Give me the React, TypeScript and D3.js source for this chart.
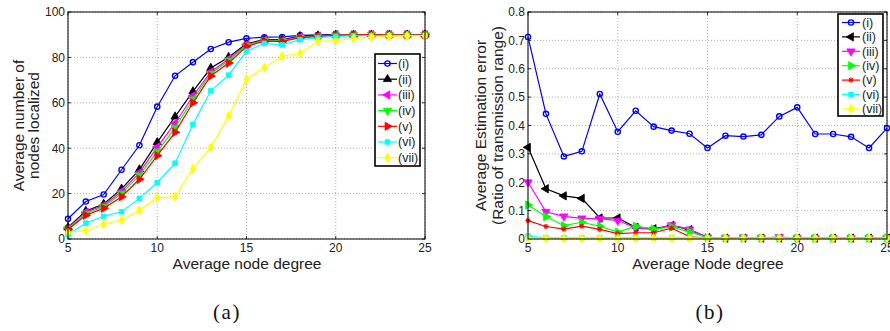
import React from "react";
import * as d3 from "d3";

const degrees = [5, 6, 7, 8, 9, 10, 11, 12, 13, 14, 15, 16, 17, 18, 19, 20, 21, 22, 23, 24, 25];
const seriesLabels = ["(i)", "(ii)", "(iii)", "(iv)", "(v)", "(vi)", "(vii)"];
const seriesColors = ["#0000ff", "#000000", "#ff00ff", "#00ff00", "#ff0000", "#00ffff", "#ffff00"];

const locI = [8.9, 16.5, 19.6, 30.5, 41.3, 58.3, 71.9, 77.9, 83.7, 86.7, 88.4, 88.9, 89.0, 89.7, 89.9, 90, 90, 90, 90, 90, 90];
const locII = [5.1, 12.3, 15.4, 22.1, 30.6, 42.6, 53.9, 65.0, 75.3, 80.1, 86.1, 87.8, 87.8, 89.3, 89.6, 90, 90, 90, 90, 90, 90];
const locIII = [4.8, 11.8, 14.8, 21.0, 29.2, 40.5, 51.0, 63.0, 73.6, 79.3, 85.6, 87.6, 87.5, 89.0, 89.4, 90, 90, 90, 90, 90, 90];
const locIV = [4.5, 11.2, 14.2, 20.0, 28.0, 38.5, 49.0, 61.5, 72.8, 78.5, 85.2, 87.4, 87.2, 88.8, 89.3, 89.8, 89.9, 90, 90, 90, 90];
const locV = [4.2, 10.5, 13.5, 18.6, 26.3, 36.7, 47.0, 60.0, 71.8, 77.5, 84.8, 87.2, 87.0, 88.7, 89.2, 89.8, 89.9, 90, 90, 90, 90];
const locVI = [1.9, 7.0, 10.0, 12.0, 17.9, 24.9, 33.4, 50.5, 65.3, 72.2, 82.7, 86.2, 85.5, 87.8, 88.7, 89.3, 89.5, 89.6, 89.7, 89.7, 89.7];
const locVII = [2.9, 3.7, 6.6, 8.3, 12.6, 18.2, 18.7, 31.0, 40.4, 54.2, 70.4, 75.5, 80.5, 81.8, 87.1, 87.4, 88.3, 88.9, 89.2, 89.5, 89.6];

const errI = [0.712, 0.441, 0.291, 0.309, 0.511, 0.378, 0.452, 0.396, 0.382, 0.371, 0.321, 0.364, 0.361, 0.367, 0.432, 0.464, 0.37, 0.37, 0.36, 0.321, 0.391];
const errII = [0.323, 0.177, 0.152, 0.143, 0.074, 0.074, 0.041, 0.036, 0.048, 0.033, 0.005, 0.003, 0.003, 0.003, 0.003, 0.003, 0.003, 0.003, 0.003, 0.003, 0.003];
const errIII = [0.2, 0.096, 0.08, 0.073, 0.072, 0.065, 0.039, 0.033, 0.049, 0.034, 0.006, 0.004, 0.006, 0.004, 0.007, 0.003, 0.003, 0.003, 0.003, 0.003, 0.003];
const errIV = [0.12, 0.079, 0.047, 0.059, 0.045, 0.024, 0.045, 0.035, 0.042, 0.025, 0.005, 0.003, 0.003, 0.003, 0.003, 0.003, 0.003, 0.003, 0.003, 0.003, 0.003];
const errV = [0.065, 0.044, 0.035, 0.045, 0.034, 0.019, 0.022, 0.022, 0.038, 0.008, 0.003, 0.003, 0.003, 0.003, 0.003, 0.003, 0.003, 0.003, 0.003, 0.003, 0.003];
const errVI = [0.01, 0.004, 0.004, 0.004, 0.004, 0.004, 0.004, 0.004, 0.004, 0.004, 0.004, 0.004, 0.004, 0.004, 0.004, 0.004, 0.004, 0.004, 0.004, 0.004, 0.004];
const errVII = [0.003, 0.003, 0.003, 0.003, 0.003, 0.003, 0.003, 0.003, 0.003, 0.003, 0.003, 0.003, 0.003, 0.003, 0.003, 0.003, 0.003, 0.003, 0.003, 0.003, 0.003];

const xTicks = [5, 10, 15, 20, 25];
const leftYTicks = [0, 20, 40, 60, 80, 100];
const rightYTicks = [0, 0.1, 0.2, 0.3, 0.4, 0.5, 0.6, 0.7, 0.8];

const FONT = "'Liberation Sans', Arial, Helvetica, sans-serif";

type MarkerKind = "circle" | "up" | "down" | "left" | "right" | "square" | "diamond" | "asterisk";

function Marker({ kind, x, y, color }: { kind: MarkerKind; x: number; y: number; color: string }) {
  if (kind === "circle") {
    return <circle cx={x} cy={y} r={2.6} fill="none" stroke={color} strokeWidth={1.4} />;
  }
  if (kind === "asterisk") {
    const s = 2.6;
    return (
      <g stroke={color} strokeWidth={1.2}>
        <line x1={x - s} y1={y} x2={x + s} y2={y} />
        <line x1={x} y1={y - s} x2={x} y2={y + s} />
        <line x1={x - s * 0.7} y1={y - s * 0.7} x2={x + s * 0.7} y2={y + s * 0.7} />
        <line x1={x - s * 0.7} y1={y + s * 0.7} x2={x + s * 0.7} y2={y - s * 0.7} />
      </g>
    );
  }
  let sym: d3.SymbolType = d3.symbolTriangle;
  let rot = 0;
  let size = 30;
  if (kind === "square") { sym = d3.symbolSquare; size = 22; }
  else if (kind === "diamond") { sym = d3.symbolDiamond; size = 24; }
  else if (kind === "down") rot = 180;
  else if (kind === "left") rot = -90;
  else if (kind === "right") rot = 90;
  const path = d3.symbol().type(sym).size(size)() || "";
  return <path d={path} transform={`translate(${x},${y}) rotate(${rot})`} fill={color} stroke={color} strokeWidth={0.8} />;
}

type PanelProps = {
  left: number; right: number; top: number; bottom: number;
  yDomain: [number, number]; yTicks: number[]; yFmt: (v: number) => string;
  series: number[][]; markers: MarkerKind[];
  yLabel: string[]; yLabelX: number[]; xLabel: string; xLabelX: number;
  legend: { x: number; y: number; w: number; h: number; row0: number; step: number; lineX0: number; lineX1: number; textX: number };
  caption: string; captionX: number;
};

function Panel(p: PanelProps) {
  const x = d3.scaleLinear().domain([5, 25]).range([p.left, p.right]);
  const y = d3.scaleLinear().domain(p.yDomain).range([p.bottom, p.top]);
  const line = d3.line<number>().x((_, i) => x(degrees[i])).y((d) => y(d));
  const tl = 3;
  return (
    <g>
      {xTicks.map((t) => (
        <line key={"gx" + t} x1={x(t)} x2={x(t)} y1={p.top} y2={p.bottom} stroke="#9a9a9a" strokeWidth={0.8} strokeDasharray="1,2" />
      ))}
      {p.yTicks.map((t) => (
        <line key={"gy" + t} x1={p.left} x2={p.right} y1={y(t)} y2={y(t)} stroke="#9a9a9a" strokeWidth={0.8} strokeDasharray="1,2" />
      ))}
      {xTicks.map((t) => (
        <g key={"tx" + t}>
          <line x1={x(t)} x2={x(t)} y1={p.bottom} y2={p.bottom - tl} stroke="#000" strokeWidth={0.8} />
          <line x1={x(t)} x2={x(t)} y1={p.top} y2={p.top + tl} stroke="#000" strokeWidth={0.8} />
          <text x={x(t)} y={p.bottom + 13} textAnchor="middle" fontFamily={FONT} fontSize={12} fill="#222">{t}</text>
        </g>
      ))}
      {p.yTicks.map((t) => (
        <g key={"ty" + t}>
          <line x1={p.left} x2={p.left + tl} y1={y(t)} y2={y(t)} stroke="#000" strokeWidth={0.8} />
          <line x1={p.right} x2={p.right - tl} y1={y(t)} y2={y(t)} stroke="#000" strokeWidth={0.8} />
          <text x={p.left - 3} y={y(t) + 4.3} textAnchor="end" fontFamily={FONT} fontSize={12} fill="#222">{p.yFmt(t)}</text>
        </g>
      ))}
      {p.series.map((s, si) => (
        <g key={"s" + si}>
          <path d={line(s) || ""} fill="none" stroke={seriesColors[si]} strokeWidth={1.2} />
          {s.map((v, i) => (
            <Marker key={i} kind={p.markers[si]} x={x(degrees[i])} y={y(v)} color={seriesColors[si]} />
          ))}
        </g>
      ))}
      <rect x={p.left} y={p.top} width={p.right - p.left} height={p.bottom - p.top} fill="none" stroke="#000" strokeWidth={1} />
      <text x={p.xLabelX} y={p.bottom + 30} textAnchor="middle" fontFamily={FONT} fontSize={15.5} fill="#222">{p.xLabel}</text>
      {p.yLabel.map((t, i) => (
        <text key={"yl" + i} transform={`translate(${p.yLabelX[i]},${(p.top + p.bottom) / 2}) rotate(-90)`} textAnchor="middle" fontFamily={FONT} fontSize={15.5} fill="#222">{t}</text>
      ))}
      <rect x={p.legend.x} y={p.legend.y} width={p.legend.w} height={p.legend.h} fill="#fff" stroke="#000" strokeWidth={1.6} />
      {seriesLabels.map((lab, i) => {
        const ly = p.legend.row0 + i * p.legend.step;
        return (
          <g key={"lg" + i}>
            <line x1={p.legend.lineX0} x2={p.legend.lineX1} y1={ly} y2={ly} stroke={seriesColors[i]} strokeWidth={1.2} />
            <Marker kind={p.markers[i]} x={(p.legend.lineX0 + p.legend.lineX1) / 2} y={ly} color={seriesColors[i]} />
            <text x={p.legend.textX} y={ly + 4.3} fontFamily={FONT} fontSize={12.5} fill="#222">{lab}</text>
          </g>
        );
      })}
      <text x={p.captionX} y={319} textAnchor="middle" fontFamily="'Liberation Serif', 'DejaVu Serif', serif" fontSize={21} letterSpacing={1.5} fill="#111">{p.caption}</text>
    </g>
  );
}

export default function App() {
  return (
    <svg width={890} height={331} style={{ position: "absolute", left: 0, top: 0, background: "#fff" }}>
      <rect x={0} y={0} width={890} height={331} fill="#fff" />
      <Panel
        left={68} right={425} top={12} bottom={239}
        yDomain={[0, 100]} yTicks={leftYTicks} yFmt={(v) => String(v)}
        series={[locI, locII, locIII, locIV, locV, locVI, locVII]}
        markers={["circle", "up", "left", "down", "right", "square", "diamond"]}
        yLabel={["Average number of", "nodes localized"]} yLabelX={[24, 39]}
        xLabel="Average node degree" xLabelX={247}
        legend={{ x: 375, y: 54, w: 45, h: 112, row0: 63.5, step: 15.7, lineX0: 378, lineX1: 397, textX: 398 }}
        caption="(a)" captionX={227}
      />
      <Panel
        left={528} right={887} top={12} bottom={239}
        yDomain={[0, 0.8]} yTicks={rightYTicks} yFmt={(v) => (v === 0 ? "0" : d3.format(".1f")(v))}
        series={[errI, errII, errIII, errIV, errV, errVI, errVII]}
        markers={["circle", "left", "down", "right", "asterisk", "square", "diamond"]}
        yLabel={["Average Estimation error", "(Ratio of transmission range)"]} yLabelX={[486, 503]}
        xLabel="Average Node degree" xLabelX={708}
        legend={{ x: 838, y: 14, w: 45, h: 102, row0: 22.5, step: 14.4, lineX0: 842, lineX1: 860, textX: 862 }}
        caption="(b)" captionX={710}
      />
    </svg>
  );
}
